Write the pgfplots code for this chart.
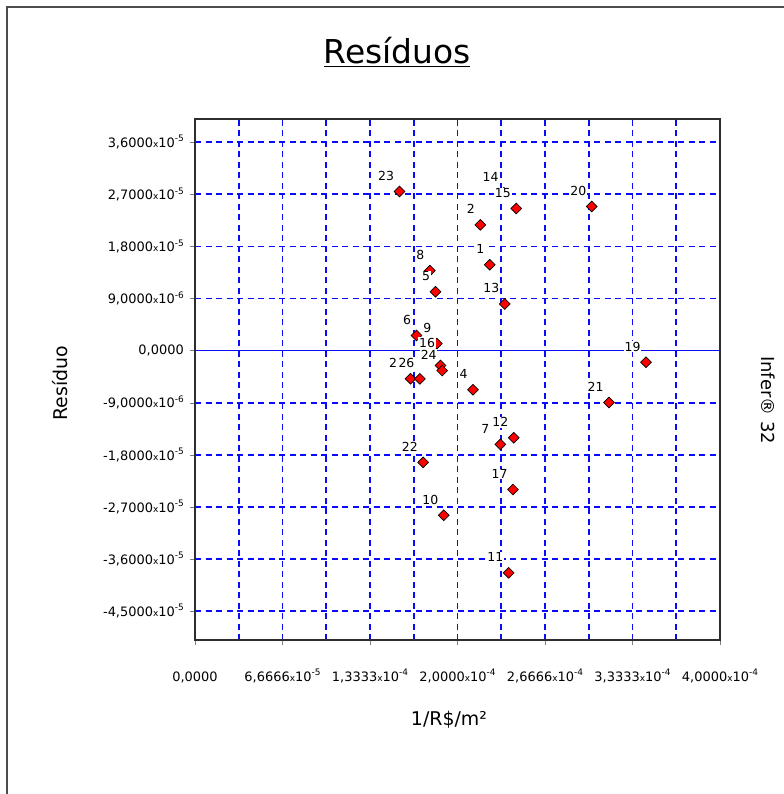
\documentclass[border=0pt]{standalone}
\usepackage{fontspec}
\setmainfont{DejaVu Sans}
\usepackage{pgfplots}
\usepackage{pgfplotstable}
\pgfplotsset{compat=1.18}

\definecolor{gridblue}{RGB}{10,10,255}
\definecolor{framecol}{RGB}{45,45,45}
\definecolor{ptred}{RGB}{255,0,0}

\newcommand\tk[2]{#1{\fontsize{9}{9}\selectfont x}10\raisebox{5.5bp}{\fontsize{9}{9}\selectfont #2}}

\pgfplotstableread{
x y lab
2.2455e-4 1.4828e-5 1
2.1741e-4 2.1724e-5 2
2.1186e-4 -0.6776e-5 4
1.8320e-4 1.0172e-5 5
1.6876e-4 0.2586e-5 6
2.3261e-4 -1.6207e-5 7
1.7894e-4 1.3793e-5 8
1.8426e-4 0.1207e-5 9
1.8959e-4 -2.8448e-5 10
2.3900e-4 -3.8397e-5 11
2.4280e-4 -1.5052e-5 12
2.3596e-4 0.8052e-5 13
2.3542e-4 2.7241e-5 14
2.4477e-4 2.4534e-5 15
1.8700e-4 -0.2586e-5 16
2.4226e-4 -2.4017e-5 17
3.4360e-4 -0.2017e-5 19
3.0232e-4 2.4879e-5 20
3.1547e-4 -0.8966e-5 21
1.7385e-4 -1.9310e-5 22
1.5583e-4 2.7466e-5 23
1.8830e-4 -0.3448e-5 24
1.6420e-4 -0.4879e-5 25
1.7134e-4 -0.4879e-5 26
}\resid

% labels drawn with the common offset
\pgfplotstableread{
x y lab
2.2455e-4 1.4828e-5 1
2.1741e-4 2.1724e-5 2
2.1186e-4 -0.6776e-5 4
1.8320e-4 1.0172e-5 5
1.6876e-4 0.2586e-5 6
1.7894e-4 1.3793e-5 8
1.8426e-4 0.1207e-5 9
1.8959e-4 -2.8448e-5 10
2.3900e-4 -3.8397e-5 11
2.4280e-4 -1.5052e-5 12
2.3596e-4 0.8052e-5 13
2.3542e-4 2.7241e-5 14
2.4477e-4 2.4534e-5 15
2.4226e-4 -2.4017e-5 17
3.4360e-4 -0.2017e-5 19
3.0232e-4 2.4879e-5 20
3.1547e-4 -0.8966e-5 21
1.7385e-4 -1.9310e-5 22
1.5583e-4 2.7466e-5 23
1.8830e-4 -0.3448e-5 24
1.6420e-4 -0.4879e-5 25
1.7134e-4 -0.4879e-5 26
}\labA
\pgfplotstableread{
x y lab
2.3261e-4 -1.6207e-5 7
}\labB
\pgfplotstableread{
x y lab
1.8700e-4 -0.2586e-5 16
}\labC

\begin{document}
\begin{tikzpicture}[x=1bp,y=1bp]
\path[use as bounding box] (0,0) rectangle (784,-794);
\draw[line width=2.2bp, black!70] (7,-794) -- (7,-7) -- (784,-7);
\begin{axis}[
  at={(195bp,-640bp)}, anchor=south west,
  scale only axis, width=525bp, height=521bp,
  xmin=0, xmax=4e-4, ymin=-5e-5, ymax=4e-5,
  scaled ticks=false,
  axis line style={framecol, line width=1.8bp},
  xtick={0,6.66667e-5,1.333333e-4,2e-4,2.666667e-4,3.333333e-4,4e-4},
  xticklabels={{0,0000},\tk{6,6666}{-5},\tk{1,3333}{-4},\tk{2,0000}{-4},\tk{2,6666}{-4},\tk{3,3333}{-4},\tk{4,0000}{-4}},
  minor xtick={3.333333e-5,1e-4,1.666667e-4,2.333333e-4,3e-4,3.666667e-4},
  ytick={-4.5e-5,-3.6e-5,-2.7e-5,-1.8e-5,-9e-6,0,9e-6,1.8e-5,2.7e-5,3.6e-5},
  yticklabels={\tk{-4,5000}{-5},\tk{-3,6000}{-5},\tk{-2,7000}{-5},\tk{-1,8000}{-5},\tk{-9,0000}{-6},{0,0000},\tk{9,0000}{-6},\tk{1,8000}{-5},\tk{2,7000}{-5},\tk{3,6000}{-5}},
  extra y ticks={0},
  extra y tick labels={},
  extra y tick style={grid=major, major grid style={solid, gridblue, line width=1.6bp}, major tick length=0pt},
  tick pos=left,
  tick align=outside,
  major tick length=5bp,
  minor tick length=0pt,
  grid=both,
  major grid style={gridblue, line width=1.7bp, dash pattern=on 6bp off 4.5bp},
  minor grid style={gridblue, line width=1.7bp, dash pattern=on 6bp off 4.5bp},
  xticklabel style={font=\fontsize{13}{13}\selectfont, anchor=base, inner sep=0pt, yshift=-36bp},
  yticklabel style={font=\fontsize{13}{13}\selectfont, anchor=east, inner sep=0pt, xshift=-6bp},
  clip=false,
]
\addplot[only marks, mark=square*, mark size=3.8bp,
  mark options={fill=ptred, draw=black, line width=0.7bp, rotate=45}]
  table[x=x, y=y] {\resid};
\addplot[only marks, mark=none,
  nodes near coords, point meta=explicit symbolic,
  nodes near coords style={anchor=base east, xshift=-4.5bp, yshift=11bp,
    fill=white, inner sep=0.8bp, font=\fontsize{12.5}{12.5}\selectfont, text=black}]
  table[x=x, y=y, meta=lab] {\labA};
\addplot[only marks, mark=none,
  nodes near coords, point meta=explicit symbolic,
  nodes near coords style={anchor=base east, xshift=-10bp, yshift=11bp,
    fill=white, inner sep=0.8bp, font=\fontsize{12.5}{12.5}\selectfont, text=black}]
  table[x=x, y=y, meta=lab] {\labB};
\addplot[only marks, mark=none,
  nodes near coords, point meta=explicit symbolic,
  nodes near coords style={anchor=base east, xshift=-4.5bp, yshift=18.5bp,
    fill=white, inner sep=0.8bp, font=\fontsize{12.5}{12.5}\selectfont, text=black}]
  table[x=x, y=y, meta=lab] {\labC};
\end{axis}
\node[font=\fontsize{33}{33}\selectfont] at (397,-52) {\underline{Resíduos}};
\node[font=\fontsize{19}{19}\selectfont, rotate=90] at (60,-383) {Resíduo};
\node[font=\fontsize{19}{19}\selectfont] at (449,-720) {1/R\$/m²};
\node[font=\fontsize{18}{18}\selectfont, rotate=-90] at (768,-400) {Infer® 32};
\end{tikzpicture}
\end{document}
